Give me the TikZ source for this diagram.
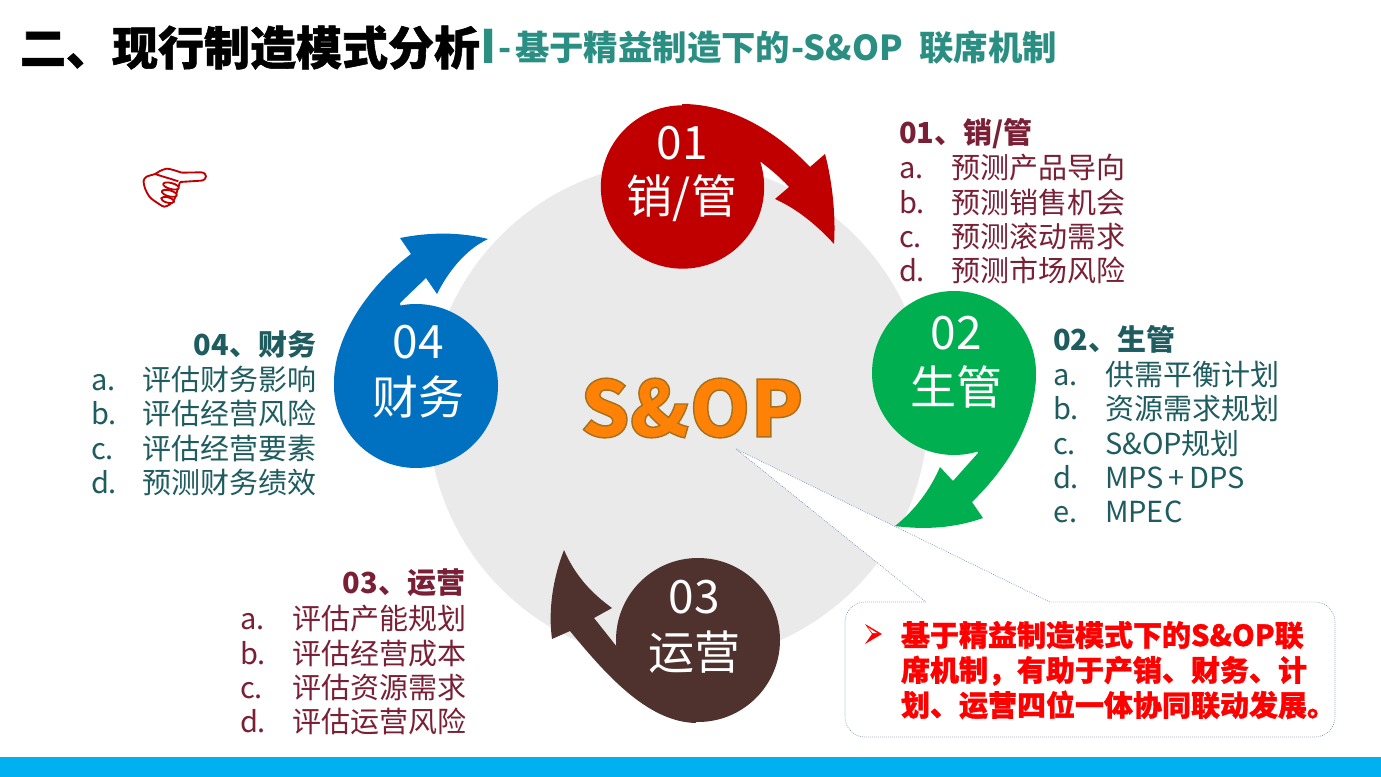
\documentclass[tikz,border=0pt]{standalone}
\usepackage{fontspec}
\setmainfont{Noto Sans CJK SC}
\newfontfamily\heavyfont[BoldFeatures={FakeBold=1.2}]{Noto Sans CJK SC}
\definecolor{cred}{HTML}{C00000}
\definecolor{cgreen}{HTML}{00B050}
\definecolor{cbrown}{HTML}{4F322D}
\definecolor{cblue}{HTML}{0070C0}
\definecolor{cdisc}{HTML}{EAEAEB}
\definecolor{cwine}{HTML}{7A2036}
\definecolor{cteal}{HTML}{1E5C60}
\definecolor{ctitle}{HTML}{2A8F82}
\definecolor{cbar}{HTML}{00B0F0}
\definecolor{corange}{HTML}{FF8206}
\definecolor{cline}{HTML}{6F80B5}
\tikzset{
  tx/.style={inner sep=0pt,outer sep=0pt},
  listline/.style={tx,anchor=base west,font=\fontsize{21.75}{24}\selectfont},
  listhead/.style={tx,font=\fontsize{21.75}{24}\selectfont\bfseries},
  numtxt/.style={tx,anchor=center,text=white,font=\fontsize{34.5}{38}\selectfont},
  calltxt/.style={tx,anchor=base west,text=red,font=\heavyfont\bfseries\fontsize{21.75}{24}\selectfont},
}
\newcommand{\listrows}[5]{%
  \foreach \lab/\txt/\yy [count=\ii] in {#5}{
    \node[listline,text=#1] (#2l\ii) at (#3,\yy) {\lab};
    \node[listline,text=#1] (#2t\ii) at (#4,\yy) {\txt};
  }}
\begin{document}
\begin{tikzpicture}[x=0.75pt,y=-0.75pt]
\useasboundingbox (0,0) rectangle (1381,777);
\fill[white] (0,0) rectangle (1381,777);
\fill[cbar] (0,757) rectangle (1381,777);
% disc
\node[circle,fill=cdisc,minimum size=375pt,inner sep=0pt] (disc) at (678,412) {};
% callout
\coordinate (tip) at (736,449);
\filldraw[fill=white,draw=cline,line width=0.5pt,densely dotted]
  (926,602) -- (tip) -- (1050,602) [rounded corners=15pt] -- (1335,602) -- (1335,737) -- (845,737) -- (845,602) -- (926,602);
\fill[red] (865,624) -- (882,634) -- (865,644) -- (872,634) -- cycle;
\fill[white] (868,627.5) -- (877,633) -- (872.5,633) -- cycle;
\node[calltxt] (c1) at (901,646) {基于精益制造模式下的S\&OP联};
\node[calltxt] (c2) at (901,681) {席机制，有助于产销、财务、计};
\node[calltxt] (c3) at (901,716) {划、运营四位一体协同联动发展。};
% arrows
\fill[cred] (682,104) .. controls (730,104) and (775,130) .. (810,167) -- (825,154)
  .. controls (832,180) and (836,215) .. (834,244) .. controls (815,223) and (795,208) .. (775,199)
  -- (789,187) .. controls (780,177) and (770,169) .. (761,162) -- (690,190) -- cycle;
\node[circle,fill=cred,minimum size=122.5pt,inner sep=0pt] (n1) at (682.5,187) {};
\fill[cgreen] (1036,373) .. controls (1036,420) and (1010,465) .. (972,502) -- (983,518)
  .. controls (955,528) and (925,530) .. (895,526) .. controls (915,510) and (930,490) .. (940,467)
  -- (953,481) -- (978,453) -- (950,380) -- cycle;
\node[circle,fill=cgreen,minimum size=123pt,inner sep=0pt] (n2) at (954,373) {};
\fill[cbrown] (696,723) .. controls (650,722) and (610,680) .. (570,631) -- (552,639)
  .. controls (548,610) and (553,578) .. (564,550) .. controls (575,575) and (590,592) .. (612,608)
  -- (594,618) -- (617,647) -- (698,640) -- cycle;
\node[circle,fill=cbrown,minimum size=123pt,inner sep=0pt] (n3) at (698,640) {};
\fill[cblue] (334,383) .. controls (334,335) and (370,285) .. (411,254) -- (400,238)
  .. controls (430,232) and (460,232) .. (488,239) .. controls (465,250) and (448,272) .. (437,294)
  -- (426,278) -- (400,303) -- (416,386) -- cycle;
\node[circle,fill=cblue,minimum size=123pt,inner sep=0pt] (n4) at (416,386) {};
% numbers
\node[numtxt] (n1a) at (682,143) {01};
\node[numtxt] (n1b) at (682,198) {销/管};
\node[numtxt] (n2a) at (956,333) {02};
\node[numtxt] (n2b) at (956,387) {生管};
\node[numtxt] (n3a) at (694,597) {03};
\node[numtxt] (n3b) at (694,652) {运营};
\node[numtxt] (n4a) at (418,342) {04};
\node[numtxt] (n4b) at (418,397) {财务};
% centre: orange fill with a brown edge, stroked in the one text
\node[tx,text=corange,font=\bfseries\fontsize{58}{60}\selectfont] (sop) at (692,408)
  {\special{pdf:code 2 Tr 0.66 0.44 0.10 RG 1.1 w}S\&OP\special{pdf:code 0 Tr 0 G 1 w}};
% lists
\node[listhead,anchor=base west,text=cwine] (h1) at (899,143.5) {01、销/管};
\listrows{cwine}{a}{899}{951}{a./预测产品导向/178.5,b./预测销售机会/213.5,c./预测滚动需求/247.5,d./预测市场风险/281.5}
\node[listhead,anchor=base west,text=cteal] (h2) at (1053,350.5) {02、生管};
\listrows{cteal}{b}{1053}{1105}{a./供需平衡计划/385.5,b./资源需求规划/419.5,c./S\&OP规划/454.5,d./MPS\,+\,DPS/488.5,e./MPEC/522.5}
\node[listhead,anchor=base east,text=cwine] (h3) at (465,593.5) {03、运营};
\listrows{cwine}{c}{240}{292}{a./评估产能规划/629.5,b./评估经营成本/664.5,c./评估资源需求/698.5,d./评估运营风险/732.5}
\node[listhead,anchor=base east,text=cteal] (h4) at (316,355.5) {04、财务};
\listrows{cteal}{d}{91}{142}{a./评估财务影响/390.5,b./评估经营风险/424.5,c./评估经营要素/459.5,d./预测财务绩效/493.5}
% hand
\begin{scope}[shift={(135,160)},x=0.25pt,y=-0.25pt,draw=cred,line width=1.4pt,line join=round,fill=white]
  \draw (140,38) -- (198,37) .. controls (218,38) and (218,60) .. (198,62) -- (135,66);
  \draw plot[smooth] coordinates {(140,38) (115,30) (95,26) (75,33) (60,42) (35,50) (26,62) (30,85) (45,112) (72,132) (88,140) (105,133) (118,118) (125,98) (135,66)};
  \draw plot[smooth] coordinates {(60,42) (85,50) (105,56) (130,64)};
  \filldraw[rotate around={-15:(108,78)}] (108,78) ellipse [x radius=24,y radius=9];
  \filldraw[rotate around={-15:(103,100)}] (103,100) ellipse [x radius=23,y radius=9];
  \filldraw[rotate around={-15:(98,120)}] (98,120) ellipse [x radius=20,y radius=8];
\end{scope}
% title
\node[tx,anchor=base west,text=black,font=\heavyfont\bfseries\fontsize{34.5}{38}\selectfont] (t0) at (20,65) {二、现行制造模式分析};
\node[tx,anchor=base west,text=ctitle,font=\bfseries\fontsize{34.5}{38}\selectfont] (t1) at (480,64) {I};
\node[tx,anchor=base west,text=ctitle,font=\bfseries\fontsize{25.8}{30}\selectfont] (t2) at (498,61) {-\hspace{3pt}基于精益制造下的\hspace{1pt}-S\&OP\hspace{6.5pt} 联席机制};
\end{tikzpicture}
\end{document}
